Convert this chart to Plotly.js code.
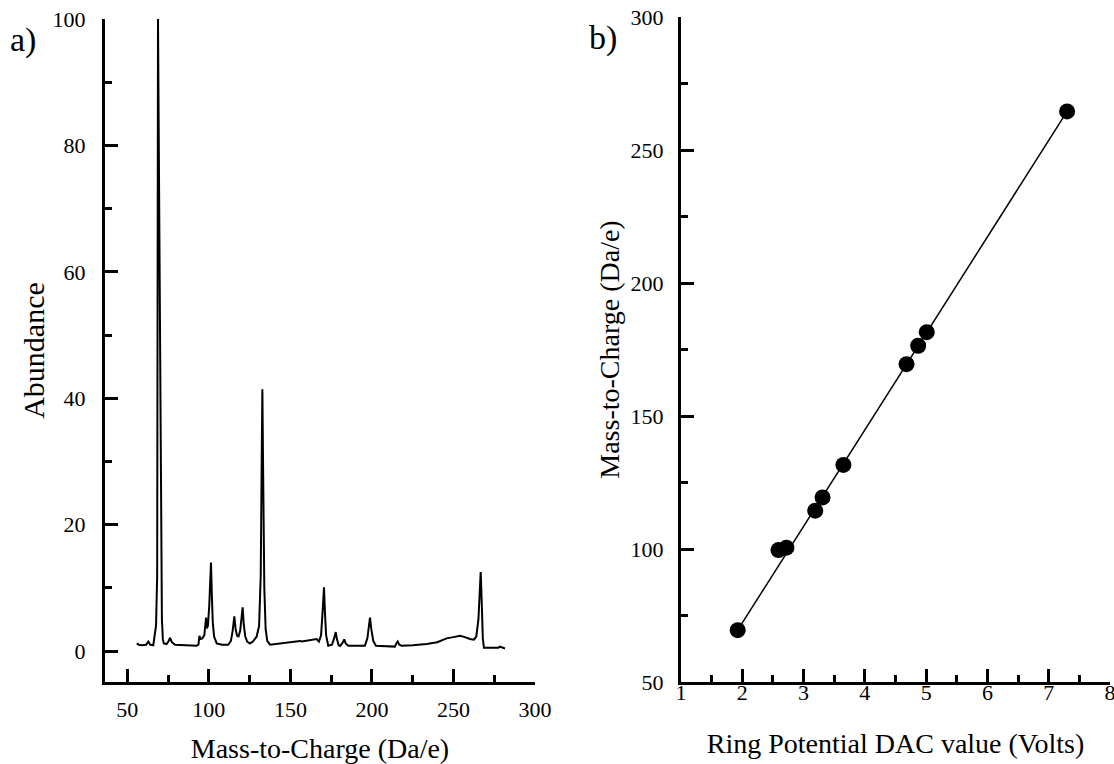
<!DOCTYPE html>
<html><head><meta charset="utf-8">
<script src="https://cdn.plot.ly/plotly-3.0.1.min.js"></script>
<style>html,body{margin:0;padding:0;background:#fff}</style>
</head><body><div id="chart" style="width:1114px;height:764px"></div>
<script>
// Panel a) mass spectrum
const massToCharge = [55.8, 57.0, 59.0, 61.5, 62.9, 64.0, 65.9, 66.6, 67.6, 68.3, 68.6, 68.8, 69.3, 70.0, 70.6, 71.2, 71.8, 72.4, 74.0, 75.2, 76.2, 77.3, 79.3, 85.0,
  92.5, 93.6, 94.2, 94.9, 96.0, 97.2, 97.8, 98.3, 98.8, 99.4, 100.2, 100.8, 101.3, 101.8, 102.4, 103.2, 104.8, 108.0,
  111.9, 113.5, 114.6, 115.6, 116.4, 117.3, 118.2, 119.2, 120.0, 120.7, 121.4, 122.3, 123.5, 125.2, 127.0, 128.5, 129.3,
  130.8, 131.8, 132.4, 132.8, 133.3, 134.0, 134.8, 135.8, 137.5, 145.0, 152.0, 155.9, 157.0, 163.0, 166.1, 167.5,
  168.8, 169.8, 170.6, 171.2, 171.9, 173.2, 175.5, 176.8, 177.8, 178.6, 179.6, 180.5, 182.0, 183.0, 183.9, 185.5,
  190.0, 195.7, 197.2, 198.2, 198.8, 199.6, 200.8, 202.5, 208.0, 214.1, 215.0, 215.8, 216.8, 218.2, 225.0, 233.6,
  240.0, 245.8, 250.0, 254.0, 257.0, 260.1, 262.5, 264.0, 265.3, 266.0, 266.7, 267.3, 268.0, 268.7, 272.0, 275.0,
  277.5, 278.5, 280.0, 281.6];
const abundance = [1.2, 1.0, 0.9, 1.0, 1.5, 1.0, 0.9, 2.5, 4.0, 12, 45, 100, 80, 45, 20, 5, 1.8, 1.2, 1.1, 1.5, 2.1, 1.4, 1.0, 0.9,
  0.85, 1.0, 2.4, 1.9, 2.0, 2.5, 4.0, 5.3, 3.6, 4.0, 7.0, 12.0, 14.0, 9.0, 4.5, 2.3, 1.2, 1.0,
  1.0, 1.6, 3.2, 5.5, 3.5, 2.4, 2.3, 3.2, 5.5, 6.9, 4.2, 2.3, 1.5, 1.2, 1.5, 2.0, 2.3,
  4.0, 12.0, 30.0, 41.4, 28.0, 10.0, 3.5, 1.6, 1.0, 1.2, 1.4, 1.6, 1.5, 1.8, 1.9, 1.5,
  2.5, 6.5, 10.1, 6.0, 2.5, 0.85, 1.0, 2.0, 3.0, 1.8, 0.9, 0.8, 1.3, 1.85, 1.2, 0.85,
  0.8, 0.85, 2.0, 4.2, 5.3, 3.5, 1.6, 0.85, 0.75, 0.7, 1.2, 1.5, 1.0, 0.85, 0.9, 1.1,
  1.4, 2.0, 2.2, 2.4, 2.2, 1.9, 1.8, 2.3, 5.0, 10.0, 12.5, 8.0, 2.0, 0.5, 0.5, 0.5,
  0.5, 0.7, 0.5, 0.4];

// Panel b) calibration
const dacVolts = [1.925, 2.59, 2.72, 3.19, 3.31, 3.65, 4.68, 4.87, 5.01, 7.30];
const calibMass = [69.5, 99.6, 100.5, 114.4, 119.4, 131.6, 169.5, 176.4, 181.5, 264.5];
const fitVolts = [1.925, 7.30];
const fitMass = [69.5, 264.5];

const W = 1114, H = 764;
const fx = p => p / W;
const fy = p => 1 - p / H;

const axisCommon = {
  showline: true, linewidth: 3, linecolor: '#000', mirror: false,
  ticks: 'inside', ticklen: 13, tickwidth: 3, tickcolor: '#000',
  showgrid: false, zeroline: false, ticklabeloverflow: 'allow',
  tickfont: {family: 'Liberation Serif', size: 22, color: '#000'}
};
const minorCommon = {ticks: 'inside', ticklen: 7, tickwidth: 3, tickcolor: '#000', showgrid: false};
const titleFont = {family: 'Liberation Serif', size: 28, color: '#000'};

const traces = [
  {x: massToCharge, y: abundance, type: 'scatter', mode: 'lines', xaxis: 'x', yaxis: 'y',
   line: {color: '#000', width: 2}, showlegend: false, hoverinfo: 'skip'},
  {x: fitVolts, y: fitMass, type: 'scatter', mode: 'lines', xaxis: 'x2', yaxis: 'y2',
   line: {color: '#000', width: 1.5}, showlegend: false},
  {x: dacVolts, y: calibMass, type: 'scatter', mode: 'markers', xaxis: 'x2', yaxis: 'y2',
   marker: {color: '#000', size: 16}, showlegend: false}
];

const layout = {
  width: W, height: H,
  margin: {l: 0, r: 0, t: 0, b: 0},
  paper_bgcolor: '#fff', plot_bgcolor: '#fff',
  font: {family: 'Liberation Serif', color: '#000'},
  xaxis: Object.assign({}, axisCommon, {
    domain: [fx(105), fx(535)], range: [36.3, 300], anchor: 'y',
    tick0: 50, dtick: 50, minor: Object.assign({}, minorCommon, {tick0: 25, dtick: 25}),
    ticklabelstandoff: 6,
    title: {text: 'Mass-to-Charge (Da/e)', font: titleFont, standoff: 27}
  }),
  yaxis: Object.assign({}, axisCommon, {
    domain: [fy(682), fy(19)], range: [-4.9, 100], anchor: 'x',
    tick0: 0, dtick: 20, minor: Object.assign({}, minorCommon, {tick0: 0, dtick: 10}),
    ticklabelstandoff: 12,
    title: {text: 'Abundance', font: {family: 'Liberation Serif', size: 30, color: '#000'}, standoff: 0}
  }),
  xaxis2: Object.assign({}, axisCommon, {
    domain: [fx(681), fx(1110)], range: [1, 8], anchor: 'y2',
    tick0: 1, dtick: 1, minor: Object.assign({}, minorCommon, {tick0: 1, dtick: 0.5}),
    ticklabelstandoff: -11,
    title: {text: 'Ring Potential DAC value (Volts)', font: titleFont, standoff: 29}
  }),
  yaxis2: Object.assign({}, axisCommon, {
    domain: [fy(682), fy(17)], range: [50, 300], anchor: 'x2',
    tick0: 50, dtick: 50, minor: Object.assign({}, minorCommon, {tick0: 25, dtick: 25}),
    ticklabelstandoff: 10,
    title: {text: 'Mass-to-Charge (Da/e)', font: titleFont, standoff: 3}
  }),
  annotations: [
    {text: 'a)', xref: 'paper', yref: 'paper', x: fx(23), y: fy(40), showarrow: false,
     xanchor: 'center', yanchor: 'middle', font: {family: 'Liberation Serif', size: 34, color: '#000'}},
    {text: 'b)', xref: 'paper', yref: 'paper', x: fx(603), y: fy(38), showarrow: false,
     xanchor: 'center', yanchor: 'middle', font: {family: 'Liberation Serif', size: 34, color: '#000'}}
  ]
};

Plotly.newPlot('chart', traces, layout, {displayModeBar: false, staticPlot: true});
</script>
</body></html>
